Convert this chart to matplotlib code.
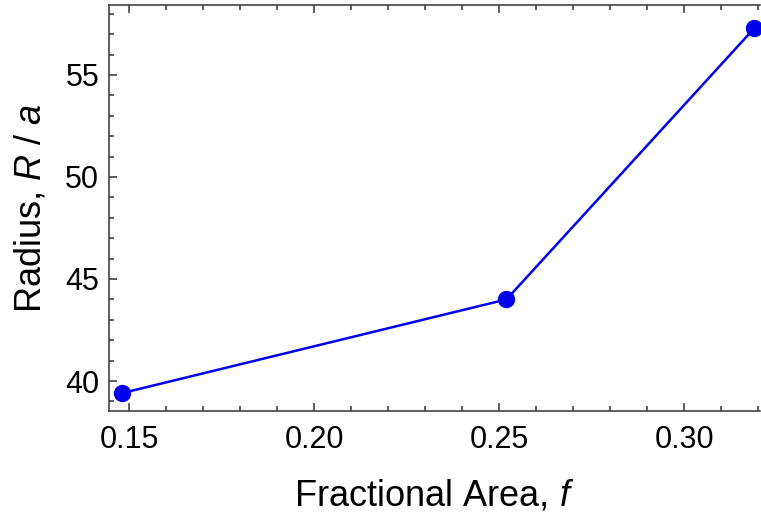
import matplotlib
matplotlib.use("Agg")
import matplotlib.pyplot as plt
from matplotlib.ticker import MultipleLocator

plt.rcParams['font.family'] = ['Liberation Sans', 'DejaVu Sans']
plt.rcParams['mathtext.fontset'] = 'custom'
plt.rcParams['mathtext.it'] = 'Liberation Sans:italic'
plt.rcParams['mathtext.rm'] = 'Liberation Sans'

frac_area = [0.148, 0.252, 0.319]
radius = [39.4, 44.0, 57.3]

fig = plt.figure(figsize=(7.61, 5.14), dpi=100)
ax = fig.add_axes([0.1432, 0.2004, 0.8555, 0.7899])
ax.plot(frac_area, radius, color='#0000ee', lw=1.8, marker='o', ms=11.5,
        clip_on=False, zorder=3)
ax.set_xlim(0.1446, 0.3205)
ax.set_ylim(38.53, 58.43)
ax.xaxis.set_major_locator(MultipleLocator(0.05))
ax.xaxis.set_minor_locator(MultipleLocator(0.01))
ax.yaxis.set_major_locator(MultipleLocator(5))
ax.yaxis.set_minor_locator(MultipleLocator(1))
ax.xaxis.set_major_formatter(plt.FuncFormatter(lambda v, p: f"{v:.2f}"))
ax.yaxis.set_major_formatter(plt.FuncFormatter(lambda v, p: f"{v:.0f}"))
ax.tick_params(which='both', direction='in', top=True, right=True,
               color='#333333', labelsize=22, width=1.1)
ax.tick_params(which='major', length=6)
ax.tick_params(which='minor', length=3.5)
ax.tick_params(axis='x', which='major', pad=10)
ax.tick_params(axis='y', which='major', pad=7)
ax.tick_params(axis='y', which='both', right=False)
for s in ax.spines.values():
    s.set_linewidth(1.1)
    s.set_color('#333333')
ax.spines['right'].set_visible(False)
ax.set_xlabel('Fractional Area, $f$', fontsize=26, labelpad=17)
ax.set_ylabel('Radius, $R$ / $a$', fontsize=26, labelpad=12)
fig.savefig('out.png', dpi=100)
